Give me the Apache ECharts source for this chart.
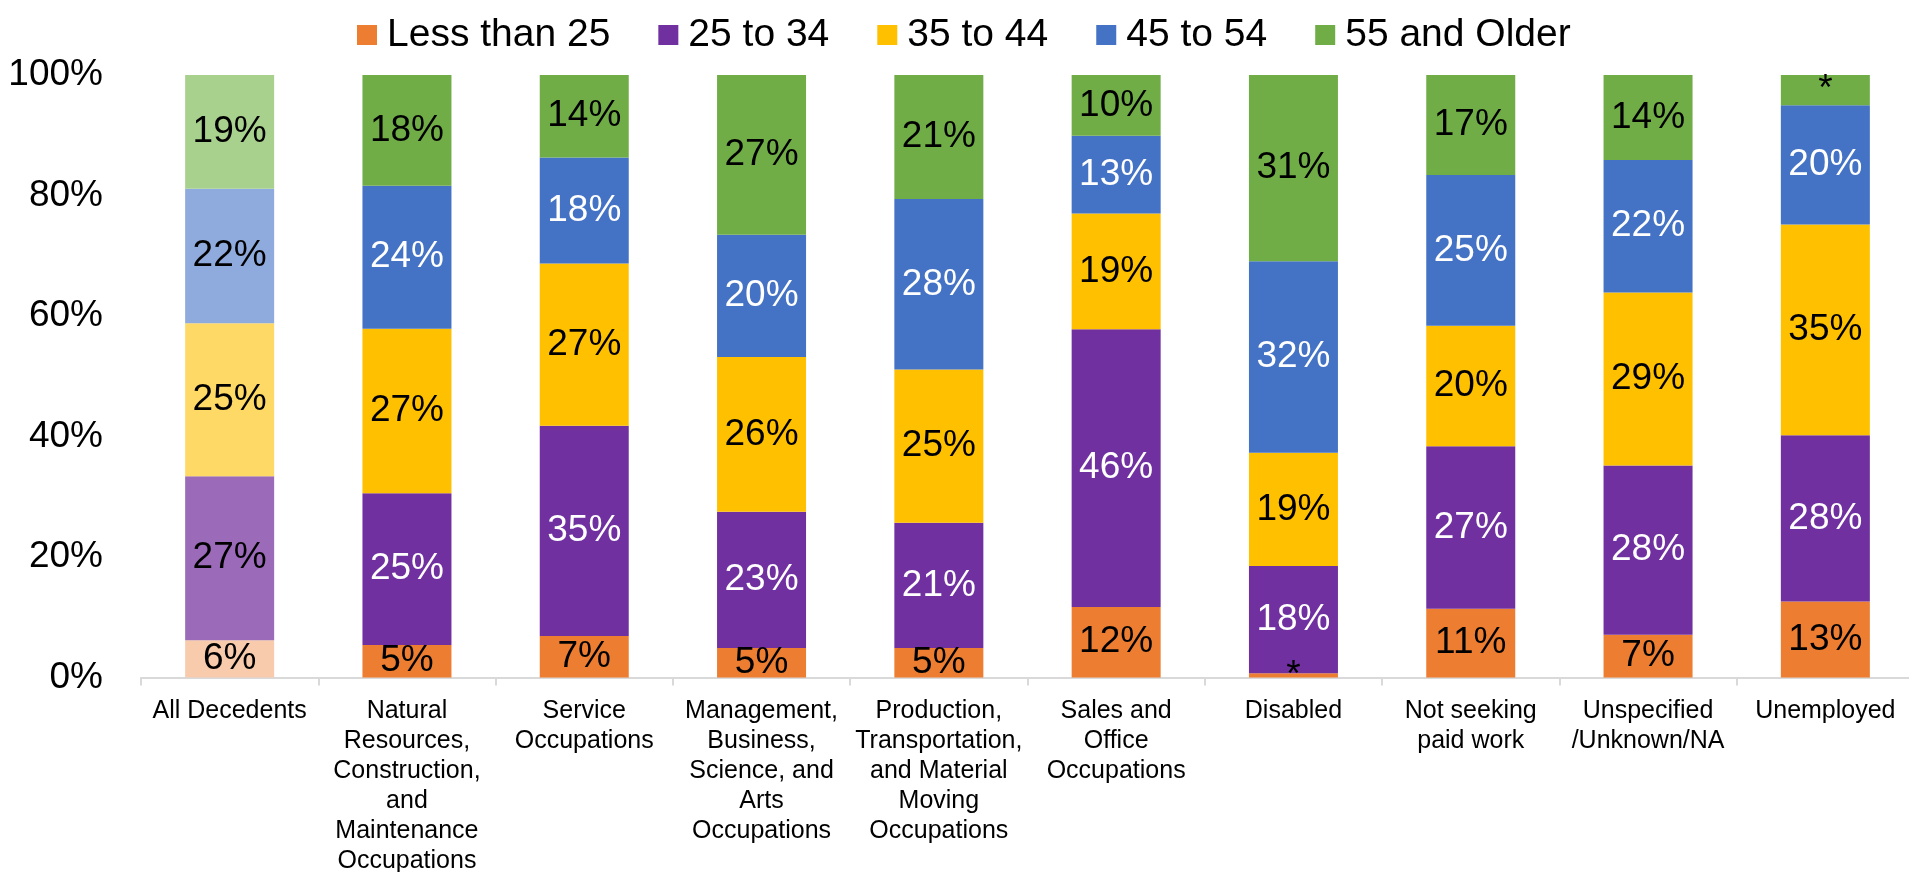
<!DOCTYPE html>
<html>
<head>
<meta charset="utf-8">
<script src="https://cdn.jsdelivr.net/npm/echarts@6/dist/echarts.min.js"></script>
<style>
html,body{margin:0;padding:0;background:#fff;}
#chart{width:1909px;height:872px;}
</style>
</head>
<body>
<div id="chart"></div>
<script>
const categories = [
  "All Decedents",
  "Natural\nResources,\nConstruction,\nand\nMaintenance\nOccupations",
  "Service\nOccupations",
  "Management,\nBusiness,\nScience, and\nArts\nOccupations",
  "Production,\nTransportation,\nand Material\nMoving\nOccupations",
  "Sales and\nOffice\nOccupations",
  "Disabled",
  "Not seeking\npaid work",
  "Unspecified\n/Unknown/NA",
  "Unemployed"
];
const seriesNames = ["Less than 25", "25 to 34", "35 to 44", "45 to 54", "55 and Older"];
const lessThan25 = [6.2, 5.4, 6.9, 4.9, 4.9, 11.7, 0.7, 11.4, 7.1, 12.6];
const age25to34  = [27.2, 25.2, 34.9, 22.6, 20.8, 46.1, 17.8, 27.0, 28.1, 27.6];
const age35to44  = [25.4, 27.3, 26.9, 25.7, 25.4, 19.2, 18.8, 20.0, 28.7, 35.0];
const age45to54  = [22.3, 23.7, 17.6, 20.3, 28.3, 12.9, 31.8, 25.0, 22.0, 19.8];
const age55plus  = [18.9, 18.4, 13.7, 26.5, 20.6, 10.1, 30.9, 16.6, 14.1, 5.0];
// cells whose value is suppressed and shown as "*"
const suppressed = {"Less than 25": ["Disabled"], "55 and Older": ["Unemployed"]};
const yMin = 0, yMax = 100, yStep = 20;

const colors     = ["#ED7D31", "#7030A0", "#FFC000", "#4472C4", "#70AD47"];
const lightColors= ["#F8CBAD", "#9B6BB9", "#FFD966", "#8FAADC", "#A9D18E"];
const labelColors= ["#000", "#fff", "#000", "#fff", "#000"];
const allValues = [lessThan25, age25to34, age35to44, age45to54, age55plus];
const FONT = "'Liberation Sans', Arial, sans-serif";

const series = seriesNames.map((name, si) => ({
  name: name,
  type: "bar",
  stack: "total",
  barWidth: 89,
  itemStyle: {color: colors[si]},
  label: {
    show: true,
    position: "inside",
    fontFamily: FONT,
    fontSize: 37,
    color: labelColors[si],
    formatter: (p) => {
      const cat = p.name;
      const list = suppressed[name] || [];
      if (list.includes(cat)) return "*";
      return Math.round(p.value) + "%";
    }
  },
  data: allValues[si].map((v, ci) => {
    if (ci === 0) {
      return {value: v, itemStyle: {color: lightColors[si]}, label: {color: "#000"}};
    }
    return {value: v};
  })
}));

const chart = echarts.init(document.getElementById("chart"), null, {renderer: "canvas"});
chart.setOption({
  animation: false,
  backgroundColor: "#fff",
  textStyle: {fontFamily: FONT},
  legend: {
    left: 352,
    top: 10,
    icon: "rect",
    itemWidth: 20,
    itemHeight: 20,
    itemGap: 48,
    textStyle: {fontFamily: FONT, fontSize: 39, color: "#000", lineHeight: 40, padding: [0, 0, 0, 5]},
    data: seriesNames
  },
  grid: {left: 141, top: 75, width: 1773, height: 602.5, outerBoundsMode: "none", containLabel: false},
  xAxis: {
    type: "category",
    data: categories,
    axisLine: {show: true, lineStyle: {color: "#d9d9d9", width: 2}},
    axisTick: {show: true, length: 8, lineStyle: {color: "#d9d9d9", width: 2}},
    axisLabel: {fontFamily: FONT, fontSize: 25, lineHeight: 30, color: "#000", margin: 19, interval: 0}
  },
  yAxis: {
    type: "value",
    min: yMin,
    max: yMax,
    interval: yStep,
    splitLine: {show: false},
    axisLine: {show: false},
    axisTick: {show: false},
    axisLabel: {fontFamily: FONT, fontSize: 37, color: "#000", margin: 38, formatter: "{value}%"}
  },
  series: series
});
</script>
</body>
</html>
